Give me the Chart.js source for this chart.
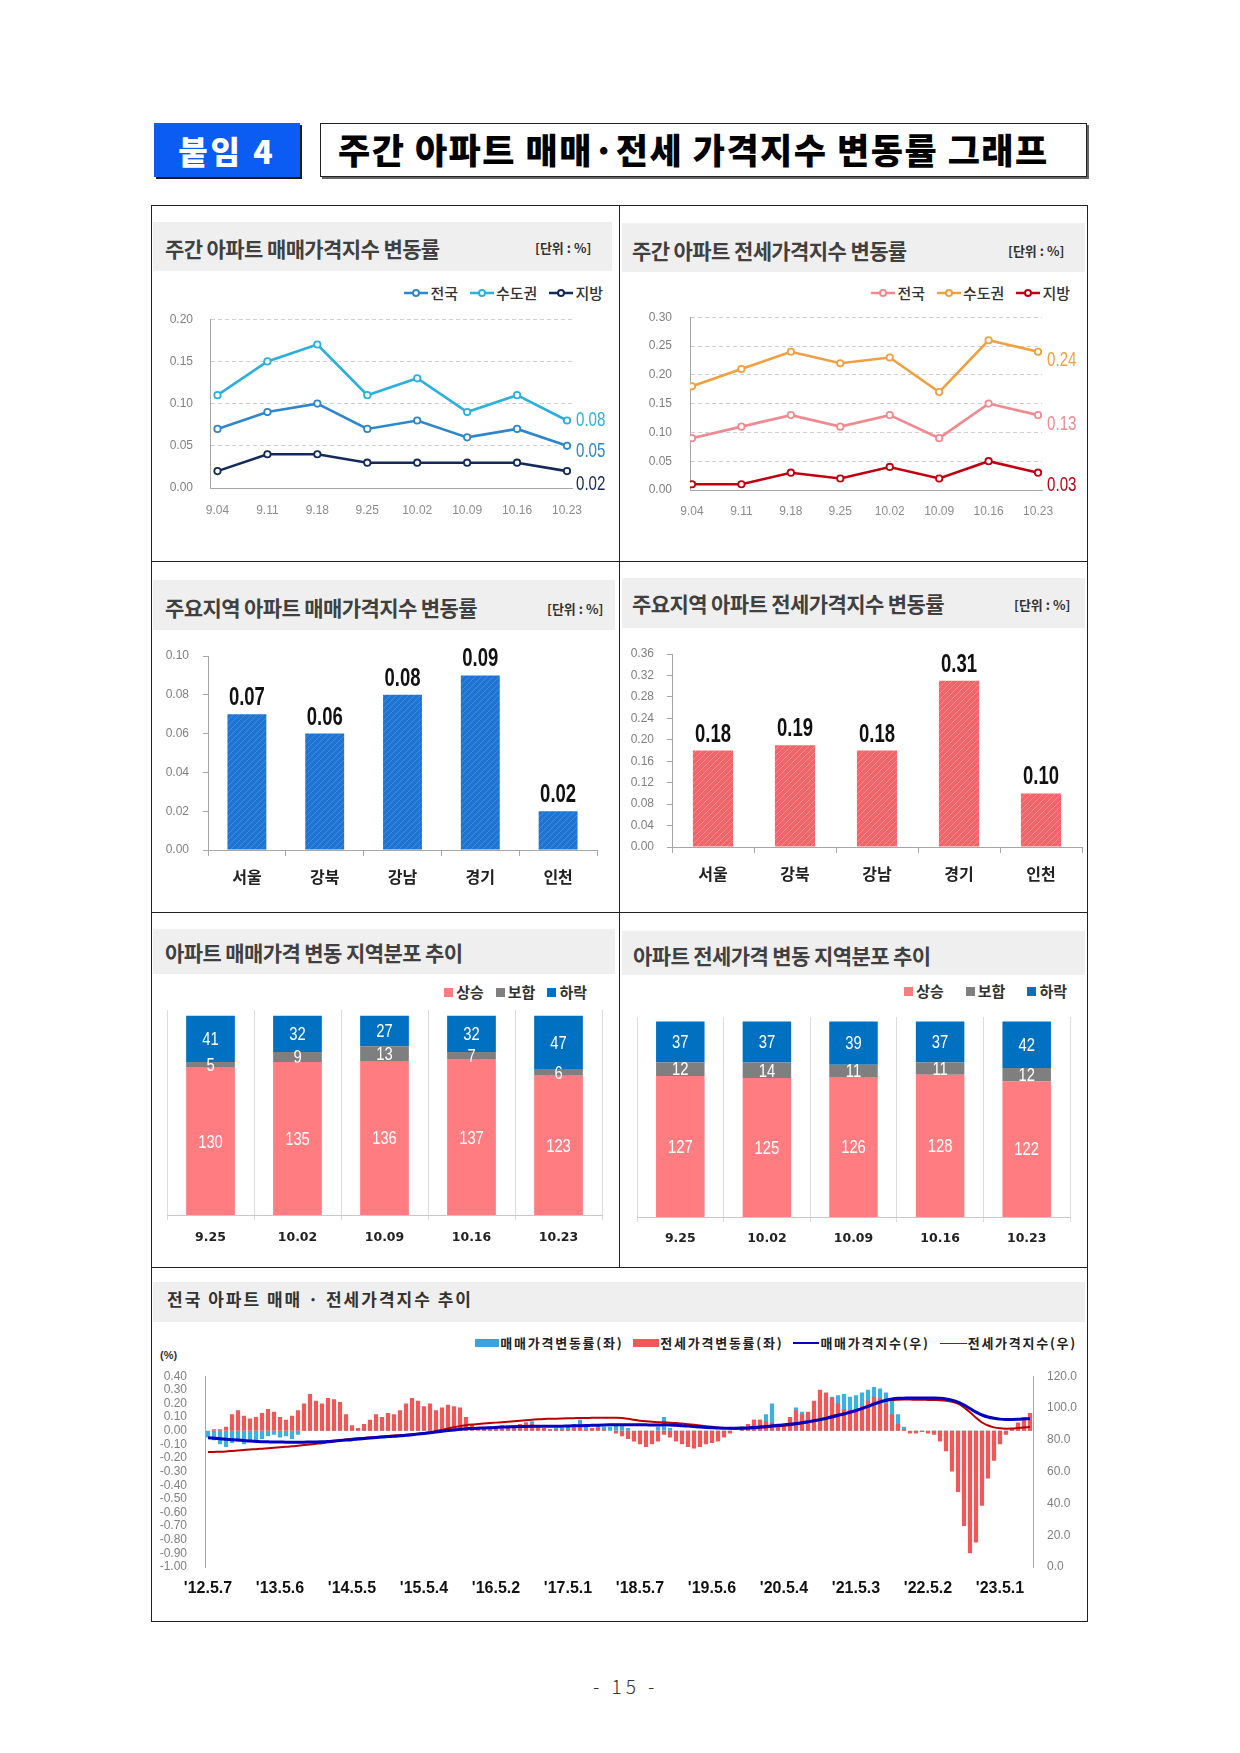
<!DOCTYPE html>
<html><head><meta charset="utf-8">
<script src="https://cdn.jsdelivr.net/npm/chart.js@4.4.0/dist/chart.umd.min.js"></script>
<style>
body{margin:0;background:#fff;width:1240px;height:1753px;position:relative;font-family:'Noto Sans CJK KR','Noto Sans',sans-serif;overflow:hidden}
.a{position:absolute;white-space:nowrap}
.band{position:absolute;background:#efefef}
.ttl{position:absolute;font-weight:700;font-size:21px;color:#404040;letter-spacing:-0.6px;line-height:26px}
.unit{position:absolute;font-weight:700;font-size:13px;color:#333;line-height:16px}
.leg{position:absolute;display:flex;align-items:center;font-size:15px;color:#333;line-height:20px;font-weight:500}
.leg span{display:flex;align-items:center;margin-left:12px}
.leg svg{margin-right:2px}
.sq{display:inline-block;width:9px;height:9px;margin-right:3px}
.hl{position:absolute;height:0;border-top:1.5px solid #222}
.vl{position:absolute;width:0;border-left:1.5px solid #222}
</style></head><body>

<div class="a" style="left:154px;top:123px;width:146px;height:54px;background:#0a5cf2;box-shadow:2px 2px 0 #1a1a1a;color:#fff;font-weight:900;font-size:32px;line-height:54px;text-align:center;letter-spacing:3px">붙임 4</div>
<div class="a" style="left:320px;top:123px;width:767px;height:54px;box-sizing:border-box;border:1.5px solid #222;box-shadow:2px 2px 0 #666;font-weight:900;font-size:35px;line-height:50px;padding-left:17px;letter-spacing:1.5px;color:#000">주간 아파트 매매·전세 가격지수 변동률 그래프</div>

<div class="a" style="left:151px;top:205px;width:937px;height:1417px;box-sizing:border-box;border:1.5px solid #222"></div>
<div class="hl" style="left:151px;top:561px;width:937px"></div>
<div class="hl" style="left:151px;top:912px;width:937px"></div>
<div class="hl" style="left:151px;top:1267px;width:937px"></div>
<div class="vl" style="left:619px;top:205px;height:1062px"></div>

<div class="band" style="left:153px;top:222px;width:459px;height:49px"></div>
<div class="band" style="left:622px;top:223px;width:463px;height:49px"></div>
<div class="band" style="left:153px;top:580px;width:462px;height:50px"></div>
<div class="band" style="left:622px;top:578px;width:463px;height:50px"></div>
<div class="band" style="left:153px;top:929px;width:462px;height:45px"></div>
<div class="band" style="left:622px;top:931px;width:463px;height:44px"></div>
<div class="band" style="left:153px;top:1282px;width:932px;height:40px"></div>

<div class="ttl" style="left:165px;top:235px">주간 아파트 매매가격지수 변동률</div>
<div class="ttl" style="left:632px;top:237px">주간 아파트 전세가격지수 변동률</div>
<div class="ttl" style="left:165px;top:594px">주요지역 아파트 매매가격지수 변동률</div>
<div class="ttl" style="left:632px;top:590px">주요지역 아파트 전세가격지수 변동률</div>
<div class="ttl" style="left:165px;top:939px">아파트 매매가격 변동 지역분포 추이</div>
<div class="ttl" style="left:633px;top:942px">아파트 전세가격 변동 지역분포 추이</div>
<div class="ttl" style="left:167px;top:1286px;font-size:17px;letter-spacing:2px;color:#333">전국 아파트 매매 · 전세가격지수 추이</div>

<div class="unit" style="left:535px;top:240px">[단위 : %]</div>
<div class="unit" style="left:1008px;top:243px">[단위 : %]</div>
<div class="unit" style="left:547px;top:601px">[단위 : %]</div>
<div class="unit" style="left:1014px;top:597px">[단위 : %]</div>

<div class="leg" style="right:637px;top:283px">
<span><svg width="24" height="10"><line x1="0" y1="5" x2="24" y2="5" stroke="#2e86cc" stroke-width="2.5"/><circle cx="12" cy="5" r="3" fill="#fff" stroke="#2e86cc" stroke-width="2"/></svg>전국</span>
<span><svg width="24" height="10"><line x1="0" y1="5" x2="24" y2="5" stroke="#2bb0dc" stroke-width="2.5"/><circle cx="12" cy="5" r="3" fill="#fff" stroke="#2bb0dc" stroke-width="2"/></svg>수도권</span>
<span><svg width="24" height="10"><line x1="0" y1="5" x2="24" y2="5" stroke="#14285a" stroke-width="2.5"/><circle cx="12" cy="5" r="3" fill="#fff" stroke="#14285a" stroke-width="2"/></svg>지방</span>
</div>
<div class="leg" style="right:170px;top:283px">
<span><svg width="24" height="10"><line x1="0" y1="5" x2="24" y2="5" stroke="#f08a90" stroke-width="2.5"/><circle cx="12" cy="5" r="3" fill="#fff" stroke="#f08a90" stroke-width="2"/></svg>전국</span>
<span><svg width="24" height="10"><line x1="0" y1="5" x2="24" y2="5" stroke="#f0a040" stroke-width="2.5"/><circle cx="12" cy="5" r="3" fill="#fff" stroke="#f0a040" stroke-width="2"/></svg>수도권</span>
<span><svg width="24" height="10"><line x1="0" y1="5" x2="24" y2="5" stroke="#c00010" stroke-width="2.5"/><circle cx="12" cy="5" r="3" fill="#fff" stroke="#c00010" stroke-width="2"/></svg>지방</span>
</div>

<div class="leg" style="right:653px;top:982px;font-weight:700">
<span><i class="sq" style="background:#ff7c80"></i>상승</span>
<span><i class="sq" style="background:#7f7f7f"></i>보합</span>
<span><i class="sq" style="background:#0070c0"></i>하락</span>
</div>
<div class="leg" style="right:173px;top:981px;font-weight:700">
<span style="margin-left:22px"><i class="sq" style="background:#ff7c80"></i>상승</span>
<span style="margin-left:22px"><i class="sq" style="background:#7f7f7f"></i>보합</span>
<span style="margin-left:22px"><i class="sq" style="background:#0070c0"></i>하락</span>
</div>

<div class="leg" style="right:163px;top:1333px;font-size:13px;font-weight:700;letter-spacing:1.75px;color:#222">
<span><i style="display:inline-block;width:24px;height:8px;background:#3aa3dc;margin-right:1px"></i>매매가격변동률(좌)</span>
<span style="margin-left:10px"><i style="display:inline-block;width:26px;height:8px;background:#f25858;margin-right:1px"></i>전세가격변동률(좌)</span>
<span style="margin-left:10px"><i style="display:inline-block;width:26px;height:0;border-top:2.5px solid #0000c0;margin-right:1px"></i>매매가격지수(우)</span>
<span style="margin-left:10px"><i style="display:inline-block;width:27px;height:0;border-top:1.5px solid #c00000;margin-right:1px"></i>전세가격지수(우)</span>
</div>
<div class="a" style="left:160px;top:1349px;font-size:11px;font-weight:700;color:#333;font-family:'Liberation Sans',sans-serif">(%)</div>

<div class="a" style="left:593px;top:1672px;font-size:19px;color:#333;letter-spacing:4px;font-weight:300">- 15 -</div>

<script>
// ---------- DATA ----------
const weeks = ['9.04','9.11','9.18','9.25','10.02','10.09','10.16','10.23'];
const saleNation  = [0.07,0.09,0.10,0.07,0.08,0.06,0.07,0.05];
const saleCapital = [0.11,0.15,0.17,0.11,0.13,0.09,0.11,0.08];
const saleLocal   = [0.02,0.04,0.04,0.03,0.03,0.03,0.03,0.02];
const rentNation  = [0.09,0.11,0.13,0.11,0.13,0.09,0.15,0.13];
const rentCapital = [0.18,0.21,0.24,0.22,0.23,0.17,0.26,0.24];
const rentLocal   = [0.01,0.01,0.03,0.02,0.04,0.02,0.05,0.03];

const regions = ['서울','강북','강남','경기','인천'];
const saleRegion = [0.07,0.06,0.08,0.09,0.02];
const rentRegion = [0.18,0.19,0.18,0.31,0.10];

const distWeeks = ['9.25','10.02','10.09','10.16','10.23'];
const saleUp   = [130,135,136,137,123];
const saleFlat = [5,9,13,7,6];
const saleDown = [41,32,27,32,47];
const rentUp   = [127,125,126,128,122];
const rentFlat = [12,14,11,11,12];
const rentDown = [37,37,39,37,42];

const tickLabels = ["'12.5.7","'13.5.6","'14.5.5","'15.5.4","'16.5.2","'17.5.1","'18.5.7","'19.5.6","'20.5.4","'21.5.3","'22.5.2","'23.5.1"];
// monthly, 2012.05 - 2023.10
const saleRate = [
-0.05,-0.07,-0.10,-0.12,-0.09,-0.08,-0.10,-0.07,
-0.08,-0.06,-0.04,-0.03,-0.05,-0.04,-0.06,-0.03,0.01,0.02,0.02,0.03,
0.03,0.05,0.06,0.04,0.02,0.01,0.02,0.06,0.08,0.05,0.04,0.03,
0.04,0.06,0.09,0.10,0.09,0.08,0.09,0.09,0.10,0.12,0.11,0.06,
0.01,0.00,0.01,0.02,0.03,0.04,0.04,0.04,0.05,0.06,0.07,0.03,
0.01,0.01,0.02,0.02,0.03,0.05,0.08,0.03,0.02,0.04,0.03,0.03,
0.04,0.05,0.02,0.00,-0.01,-0.02,-0.03,0.03,0.10,0.02,-0.02,-0.05,
-0.08,-0.09,-0.09,-0.08,-0.07,-0.05,-0.03,-0.01,0.00,0.02,0.04,0.08,
0.08,0.12,0.20,0.05,0.02,0.10,0.17,0.14,0.12,0.15,0.22,0.25,
0.25,0.26,0.27,0.25,0.26,0.28,0.30,0.32,0.31,0.28,0.22,0.12,
0.03,0.00,-0.01,-0.01,0.00,-0.01,-0.05,-0.10,-0.20,-0.30,-0.50,-0.70,
-0.60,-0.40,-0.28,-0.18,-0.08,-0.02,0.01,0.05,0.08,0.07];
const rentRate = [
0.00,0.01,0.01,0.03,0.12,0.15,0.11,0.09,
0.10,0.13,0.16,0.14,0.10,0.08,0.11,0.15,0.20,0.27,0.22,0.20,
0.24,0.23,0.21,0.12,0.04,0.02,0.05,0.08,0.12,0.10,0.13,0.12,
0.15,0.20,0.24,0.22,0.18,0.20,0.15,0.17,0.19,0.18,0.17,0.10,
0.05,0.03,0.03,0.03,0.02,0.02,0.03,0.04,0.05,0.06,0.05,0.03,
0.02,0.01,0.01,0.01,0.01,0.02,0.02,0.01,0.02,0.02,0.01,0.00,
-0.02,-0.04,-0.06,-0.08,-0.10,-0.12,-0.10,-0.08,-0.03,-0.05,-0.08,-0.10,
-0.12,-0.13,-0.12,-0.10,-0.09,-0.08,-0.05,-0.02,0.00,0.03,0.05,0.08,
0.08,0.07,0.06,0.03,0.05,0.10,0.15,0.12,0.14,0.22,0.30,0.28,
0.24,0.20,0.16,0.15,0.16,0.18,0.22,0.25,0.24,0.20,0.12,0.05,
0.01,-0.02,-0.02,-0.01,-0.02,-0.03,-0.08,-0.15,-0.30,-0.45,-0.70,-0.90,
-0.82,-0.55,-0.35,-0.22,-0.10,-0.03,0.02,0.06,0.10,0.13];
const saleIndex = [
81.3,81.0,80.7,80.4,80.1,79.8,79.5,79.2,
79.0,78.8,78.7,78.6,78.6,78.5,78.5,78.5,78.5,78.6,78.6,78.7,
78.9,79.2,79.5,79.8,80.1,80.5,80.8,81.1,81.4,81.7,82.0,82.2,
82.5,82.8,83.2,83.6,84.0,84.4,84.9,85.4,85.8,86.2,86.6,86.9,
87.1,87.3,87.4,87.6,87.8,88.0,88.1,88.2,88.3,88.4,88.5,88.6,
88.6,88.6,88.6,88.6,88.7,88.8,88.9,89.0,89.1,89.2,89.3,89.4,
89.5,89.5,89.5,89.5,89.5,89.4,89.3,89.3,89.4,89.3,89.1,88.9,
88.6,88.3,88.0,87.8,87.6,87.4,87.3,87.3,87.3,87.4,87.5,87.8,
88.1,88.4,88.8,89.1,89.4,89.8,90.3,90.8,91.4,92.0,92.7,93.4,
94.3,95.3,96.2,97.3,98.4,99.6,101.0,102.5,103.8,104.9,105.7,106.1,
106.2,106.3,106.3,106.3,106.3,106.3,106.1,105.7,104.9,103.7,101.9,99.7,
97.4,95.6,94.3,93.5,93.0,92.8,92.8,92.9,93.1,93.3];
const rentIndex = [
72.3,72.4,72.5,72.7,73.0,73.3,73.6,73.9,
74.1,74.4,74.7,75.0,75.3,75.6,75.9,76.3,76.7,77.1,77.5,77.9,
78.4,79.0,79.6,80.2,80.7,81.0,81.2,81.5,81.8,82.1,82.4,82.7,
82.9,83.2,83.5,83.8,84.2,84.7,85.5,86.3,87.1,87.9,88.6,89.2,
89.6,89.9,90.2,90.5,90.8,91.1,91.4,91.7,92.0,92.3,92.6,92.9,
93.1,93.2,93.3,93.4,93.5,93.6,93.7,93.7,93.8,93.8,93.9,93.9,
93.9,93.7,93.2,92.6,92.0,91.6,91.3,91.1,91.0,90.8,90.5,90.2,
89.8,89.4,89.0,88.6,88.2,87.8,87.5,87.2,87.0,87.0,87.1,87.3,
87.6,87.9,88.2,88.5,88.8,89.2,89.7,90.3,91.0,91.8,92.8,93.8,
95.0,95.8,96.6,97.5,98.5,99.8,101.2,102.6,103.7,104.5,105.0,105.2,
105.3,105.3,105.2,105.2,105.1,105.0,104.9,104.6,103.9,102.7,100.4,97.3,
93.8,90.9,89.0,87.8,87.2,87.0,87.1,87.4,87.7,88.0];
const months = [];
for (let i = 0; i < saleRate.length; i++) { const m = 4 + i; months.push(String(12 + Math.floor(m / 12)) + '.' + String(m % 12 + 1)); }

// ---------- HELPERS ----------
const SANS = "'Liberation Sans', Arial, sans-serif";
const NARROW = "'Liberation Sans Narrow','Arial Narrow','Liberation Sans',sans-serif";
const KR = "'Noto Sans CJK KR','Noto Sans',sans-serif";
Chart.defaults.font.family = SANS;
Chart.defaults.color = '#808080';
Chart.defaults.animation = false;
Chart.defaults.layout.autoPadding = false;
Chart.defaults.plugins.legend.display = false;
Chart.defaults.plugins.tooltip.enabled = false;

function mk(l, t, w, h) {
  const c = document.createElement('canvas');
  c.width = w; c.height = h;
  c.style.cssText = `position:absolute;left:${l}px;top:${t}px;width:${w}px;height:${h}px`;
  document.body.appendChild(c);
  return c.getContext('2d');
}
const fixW = w => s => { s.width = w; };
const fixH = h => s => { s.height = h; };
const fmt = d => v => (Math.abs(v) < 1e-9 ? 0 : v).toFixed(d);

function hatch(base, line) {
  const p = document.createElement('canvas'); p.width = 6; p.height = 6;
  const g = p.getContext('2d');
  g.fillStyle = base; g.fillRect(0, 0, 6, 6);
  g.strokeStyle = line; g.lineWidth = 1;
  g.beginPath(); g.moveTo(0, 6); g.lineTo(6, 0); g.moveTo(-3, 3); g.lineTo(3, -3); g.moveTo(3, 9); g.lineTo(9, 3); g.stroke();
  return g.createPattern(p, 'repeat');
}
function narrowText(ctx, txt, x, y, sx) {
  ctx.save(); ctx.translate(x, y); ctx.scale(sx, 1); ctx.fillText(txt, 0, 0); ctx.restore();
}

const endLabels = {
  id: 'endLabels',
  afterDatasetsDraw(chart, args, o) {
    const ctx = chart.ctx; ctx.save();
    ctx.font = '21px ' + NARROW; ctx.textBaseline = 'middle'; ctx.textAlign = 'left';
    chart.data.datasets.forEach((ds, di) => {
      const meta = chart.getDatasetMeta(di);
      const pt = meta.data[meta.data.length - 1];
      const v = ds.src[ds.src.length - 1];
      ctx.fillStyle = ds.borderColor;
      narrowText(ctx, v.toFixed(2), pt.x + o.dx, pt.y + o.dy[di], 0.72);
    });
    ctx.restore();
  }
};
const topLabels = {
  id: 'topLabels',
  afterDatasetsDraw(chart) {
    const ctx = chart.ctx; ctx.save();
    ctx.font = 'bold 25px ' + NARROW; ctx.fillStyle = '#111'; ctx.textAlign = 'center'; ctx.textBaseline = 'alphabetic';
    const vals = chart.data.datasets[0].data;
    chart.getDatasetMeta(0).data.forEach((b, i) => narrowText(ctx, vals[i].toFixed(2), b.x, b.y - 9, 0.74));
    ctx.restore();
  }
};
const segLabels = {
  id: 'segLabels',
  afterDatasetsDraw(chart) {
    const ctx = chart.ctx; ctx.save();
    ctx.font = '19px ' + NARROW; ctx.fillStyle = '#fff'; ctx.textAlign = 'center'; ctx.textBaseline = 'middle';
    chart.data.datasets.forEach((ds, di) => {
      chart.getDatasetMeta(di).data.forEach((b, i) => narrowText(ctx, String(ds.data[i]), b.x, (b.y + b.base) / 2 + 1, 0.78));
    });
    ctx.restore();
  }
};

// ---------- LINE CHARTS ----------
function lineChart(ctx, series, colors, yMax, yStep, xMin, xMax, yW, xH, pad, yPad, xPad, dy) {
  return new Chart(ctx, {
    type: 'line',
    data: {
      datasets: series.map((s, k) => ({
        src: s,
        data: s.map((v, i) => ({ x: i, y: v })),
        borderColor: colors[k], backgroundColor: '#fff',
        borderWidth: 2.6, pointRadius: 3.2, pointBorderWidth: 1.8,
        pointBackgroundColor: '#fff', pointBorderColor: colors[k], tension: 0
      }))
    },
    options: {
      responsive: false, layout: { padding: pad },
      scales: {
        x: { type: 'linear', min: xMin, max: xMax, afterFit: fixH(xH),
             grid: { display: false, drawTicks: false }, border: { display: true, color: '#a6a6a6' },
             ticks: { stepSize: 1, includeBounds: false, autoSkip: false, maxRotation: 0, padding: xPad,
                      color: '#8c8c8c', font: { size: 12 },
                      callback: v => Number.isInteger(v) && v >= 0 && v < weeks.length ? weeks[v] : '' } },
        y: { min: 0, max: yMax, afterFit: fixW(yW),
             grid: { color: '#cfcfcf', drawTicks: false },
             border: { display: true, color: '#a6a6a6', dash: [4, 3] },
             ticks: { stepSize: yStep, padding: yPad, color: '#808080', font: { size: 12 }, callback: fmt(2) } }
      },
      plugins: { endLabels: { dx: 9, dy } }
    },
    plugins: [endLabels]
  });
}
lineChart(mk(160, 295, 455, 235), [saleCapital, saleNation, saleLocal], ['#2bb0dc', '#2e86cc', '#14285a'],
  0.2, 0.05, -0.15, 7.1, 50, 42, { top: 0, right: 43, left: 0, bottom: 0 }, 17, 15, [0, 5, 13]);
lineChart(mk(630, 292, 455, 238), [rentCapital, rentNation, rentLocal], ['#f0a040', '#f08a90', '#c00010'],
  0.3, 0.05, -0.04, 7.08, 60, 40, { top: 0, right: 43, left: 0, bottom: 0 }, 18, 14, [8, 9, 12]);

// ---------- REGION BAR CHARTS ----------
function regionChart(ctx, vals, fill, yMax, yStep, yW, xH, pad, yPad, xPad, bp) {
  return new Chart(ctx, {
    type: 'bar',
    data: { labels: regions, datasets: [{ data: vals, backgroundColor: fill, borderWidth: 0, barPercentage: bp, categoryPercentage: 1 }] },
    options: {
      responsive: false, layout: { padding: pad },
      scales: {
        x: { afterFit: fixH(xH), grid: { offset: true, drawOnChartArea: false, drawTicks: true, tickLength: 6, color: '#a6a6a6' },
             border: { color: '#a6a6a6' },
             ticks: { padding: xPad, color: '#222', font: { size: 16, weight: 'bold', family: KR } } },
        y: { min: 0, max: yMax, afterFit: fixW(yW),
             grid: { drawOnChartArea: false, drawTicks: true, tickLength: 5, color: '#a6a6a6' },
             border: { color: '#a6a6a6' },
             ticks: { stepSize: yStep, padding: yPad, color: '#808080', font: { size: 12 }, callback: fmt(2) } }
      }
    },
    plugins: [topLabels]
  });
}
regionChart(mk(150, 630, 460, 265), saleRegion, hatch('#1e74d0', '#3d8ddf'), 0.10, 0.02, 58, 45, { top: 26, right: 13, left: 0, bottom: 0 }, 14, 11, 0.5);
regionChart(mk(615, 628, 475, 265), rentRegion, hatch('#f8636a', '#fb8d92'), 0.36, 0.04, 57, 46, { top: 26, right: 8, left: 0, bottom: 0 }, 13, 11, 0.49);

// ---------- DISTRIBUTION STACKED CHARTS ----------
function distChart(ctx, up, flat, down, yMax, xH, pad, xPad) {
  const common = { borderWidth: 0, barPercentage: 0.56, categoryPercentage: 1 };
  return new Chart(ctx, {
    type: 'bar',
    data: { labels: distWeeks, datasets: [
      Object.assign({ label: '상승', data: up, backgroundColor: '#ff7c80' }, common),
      Object.assign({ label: '보합', data: flat, backgroundColor: '#7f7f7f' }, common),
      Object.assign({ label: '하락', data: down, backgroundColor: '#0070c0' }, common)
    ] },
    options: {
      responsive: false, layout: { padding: pad },
      scales: {
        x: { stacked: true, afterFit: fixH(xH),
             grid: { offset: true, drawOnChartArea: true, drawTicks: true, tickLength: 5, color: '#dcdcdc' },
             border: { color: '#c8c8c8' },
             ticks: { padding: xPad, color: '#222', font: { size: 12.5, weight: 'bold', family: "'DejaVu Sans',sans-serif" } } },
        y: { stacked: true, display: false, min: 0, max: yMax }
      }
    },
    plugins: [segLabels]
  });
}
distChart(mk(155, 1000, 460, 255), saleUp, saleFlat, saleDown, 181, 40, { top: 10, left: 12, right: 13, bottom: 0 }, 10);
distChart(mk(625, 1005, 460, 255), rentUp, rentFlat, rentDown, 180, 43, { top: 12, left: 12, right: 15, bottom: 0 }, 9);

// ---------- LONG-TERM CHART ----------
new Chart(mk(140, 1351, 960, 254), {
  type: 'bar',
  data: {
    labels: months,
    datasets: [
      { type: 'line', label: '매매가격지수(우)', data: saleIndex, yAxisID: 'y2', borderColor: '#0000c0', borderWidth: 3, pointRadius: 0, tension: 0.4, cubicInterpolationMode: 'monotone', order: 0 },
      { type: 'line', label: '전세가격지수(우)', data: rentIndex, yAxisID: 'y2', borderColor: '#b80000', borderWidth: 2, pointRadius: 0, tension: 0.4, cubicInterpolationMode: 'monotone', order: 1 },
      { label: '전세가격변동률(좌)', data: rentRate, yAxisID: 'y', backgroundColor: '#f05858', grouped: false, barPercentage: 0.7, categoryPercentage: 1, order: 2 },
      { label: '매매가격변동률(좌)', data: saleRate, yAxisID: 'y', backgroundColor: '#3cb0e0', grouped: false, barPercentage: 0.7, categoryPercentage: 1, order: 3 }
    ]
  },
  options: {
    responsive: false, layout: { padding: { top: 0, left: 0, right: 0, bottom: 0 } },
    scales: {
      x: { afterFit: fixH(38), grid: { display: false, drawTicks: false }, border: { display: false },
           ticks: { autoSkip: false, maxRotation: 0, padding: 12, color: '#111', font: { size: 16, weight: 'bold', family: NARROW },
                    callback: (v, i) => (i % 12 === 0 ? tickLabels[i / 12] : null) } },
      y: { position: 'left', min: -1, max: 0.4, afterFit: fixW(65), grid: { display: false, drawTicks: false },
           border: { display: true, color: '#a6a6a6' },
           ticks: { stepSize: 0.1, autoSkip: false, padding: 18, color: '#808080', font: { size: 12 }, callback: fmt(2) } },
      y2: { position: 'right', min: 0, max: 120, afterFit: fixW(67), grid: { display: false, drawTicks: false },
            border: { display: true, color: '#a6a6a6' },
            ticks: { stepSize: 20, padding: 14, color: '#808080', font: { size: 12 }, callback: fmt(1) } }
    }
  }
});
</script>
</body></html>
